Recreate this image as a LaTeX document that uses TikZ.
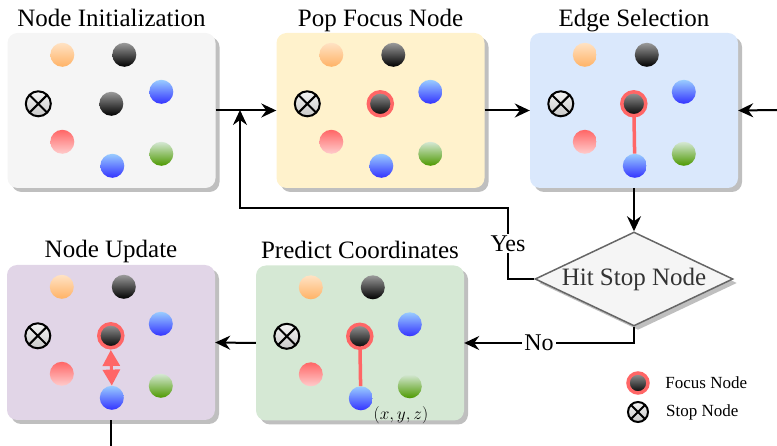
\documentclass[tikz,border=0pt]{standalone}
\usepackage{fontspec}
\setmainfont{Liberation Serif}
\usetikzlibrary{arrows.meta,positioning,shapes.geometric,shadows}

\definecolor{initfill}{HTML}{F5F5F5}
\definecolor{popfill}{HTML}{FFF2CC}
\definecolor{edgefill}{HTML}{DAE8FC}
\definecolor{updatefill}{HTML}{E1D5E7}
\definecolor{predictfill}{HTML}{D5E8D4}
\definecolor{diamondline}{HTML}{666666}
\definecolor{focusred}{HTML}{FF6666}
\definecolor{orangetop}{HTML}{FFE2C4}
\definecolor{orangebot}{HTML}{FFB366}
\definecolor{darktop}{HTML}{9A9A9A}
\definecolor{darkbot}{HTML}{000000}
\definecolor{bluetop}{HTML}{99CCFF}
\definecolor{bluebot}{HTML}{3333FF}
\definecolor{redtop}{HTML}{FF6666}
\definecolor{redbot}{HTML}{FFCCCC}
\definecolor{greentop}{HTML}{D5E8D4}
\definecolor{greenbot}{HTML}{4D9900}
\definecolor{stoptop}{HTML}{F4F4F4}
\definecolor{stopbot}{HTML}{C8C8C8}

\begin{document}
\begin{tikzpicture}[x=1pt,y=-1pt,
  box/.style={rectangle, rounded corners=10pt, minimum width=208pt, minimum height=155pt, inner sep=0pt,
    drop shadow={shadow xshift=4pt, shadow yshift=-4pt, fill=black!25, opacity=1}},
  title/.style={font=\fontsize{25}{30}\selectfont, inner sep=0pt, text depth=0pt},
  ball/.style={circle, inner sep=0pt, minimum size=24pt},
  orangeball/.style={ball, top color=orangetop, bottom color=orangebot},
  darkball/.style={ball, top color=darktop, bottom color=darkbot},
  blueball/.style={ball, top color=bluetop, bottom color=bluebot},
  redball/.style={ball, top color=redtop, bottom color=redbot},
  greenball/.style={ball, top color=greentop, bottom color=greenbot},
  stopnode/.style={circle, inner sep=0pt, minimum size=25pt, draw, line width=2pt,
    top color=stoptop, bottom color=stopbot,
    path picture={\draw[line width=2pt] (path picture bounding box.north east) -- (path picture bounding box.south west)
      (path picture bounding box.north west) -- (path picture bounding box.south east);}},
  focusring/.style={circle, inner sep=0pt, minimum size=24pt, draw=focusred, line width=3.5pt},
  redge/.style={draw=focusred, line width=3.5pt},
  rarrow/.style={draw=focusred, line width=3pt, {Triangle[length=16pt,width=17pt]}-{Triangle[length=16pt,width=17pt]}},
  decision/.style={diamond, aspect=2.1, minimum width=198pt, minimum height=94pt, inner sep=0pt,
    draw=diamondline, line width=1.5pt, fill=initfill, text=black!80, font=\fontsize{25}{30}\selectfont,
    drop shadow={shadow xshift=4pt, shadow yshift=-4pt, fill=black!25, opacity=1}},
  link/.style={line width=2pt, -{Stealth[length=15pt,width=14pt,inset=5pt]}},
  answer/.style={fill=white, inner sep=2pt, font=\fontsize{24}{28}\selectfont},
  legend/.style={inner sep=1pt, font=\fontsize{17}{20}\selectfont}
  ]
\useasboundingbox (0,0) rectangle (777,446);

\node[box, fill=initfill] (init) at (111.5,110.5) {};
\node[box, fill=popfill] (pop) at (380.5,110.5) {};
\node[box, fill=edgefill] (edge) at (634,110.5) {};
\node[box, fill=updatefill] (update) at (111,342.5) {};
\node[box, fill=predictfill] (predict) at (360,343) {};      % boxes

\node[title, above=6pt of init] {Node Initialization};
\node[title, above=6pt of pop] {Pop Focus Node};
\node[title, above=6pt of edge] {Edge Selection};
\node[title, above=7pt of update] {Node Update};
\node[title, above=7pt of predict] {Predict Coordinates};  % titles

\foreach \b in {init,pop,edge,update,predict}
{
	\begin{scope}[shift={(\b.north west)}]
	\node[orangeball] (\b-o) at (55,22) {};
	\node[darkball] (\b-t) at (117,22) {};
	\node[blueball] (\b-b1) at (154,59) {};
	\node[stopnode] (\b-s) at (31,71) {};
	\node[darkball] (\b-m) at (104,71) {};
	\node[redball] (\b-r) at (55,109) {};
	\node[blueball] (\b-b2) at (105,133) {};
	\node[greenball] (\b-g) at (154,121) {};
	\end{scope}
};                               % nodes in each box

\foreach \b in {edge,predict}
\draw[redge] (\b-m) -- (\b-b2);  % selected edge

\foreach \b in {pop,edge,update,predict}
\node[focusring] at (\b-m) {};  % focus node

\draw[rarrow] ([yshift=-2pt]update-m.south) -- (update-b2.north);
\node[anchor=north west, inner sep=1pt, font=\fontsize{16}{18}\selectfont] (xyz)
  at ([xshift=3pt,yshift=2pt]predict-b2.south east) {$(x,y,z)$};

\node[decision] (hit) at (634,279) {Hit Stop Node};

\coordinate (merge) at (240,110);
\coordinate (rin) at (777,110);
\coordinate (uout) at (111,446);

\draw[link] (init.east) -- (pop.west);
\draw[link] (pop.east) -- (edge.west);
\draw[link] (rin) -- (edge.east);
\draw[link] (edge.south) -- (hit.north);
\draw[link] (hit.west) -| node[answer, pos=0.75] {Yes} (508,208) -| (merge);
\draw[link] (hit.south) |- node[answer, pos=0.78] {No} (predict.east);
\draw[link] (predict.west) -- (update.east);
\draw[line width=2pt] (update.south) -- (uout);   % connectors

\node[darkball, minimum size=20pt] (lgf) at (638,383) {};
\node[focusring, minimum size=20pt] at (lgf) {};
\node[legend, right=16pt of lgf] {Focus Node};
\node[stopnode, minimum size=20pt] (lgs) at (638,412) {};
\node[legend, right=16pt of lgs] {Stop Node};     % legend
\end{tikzpicture}
\end{document}
